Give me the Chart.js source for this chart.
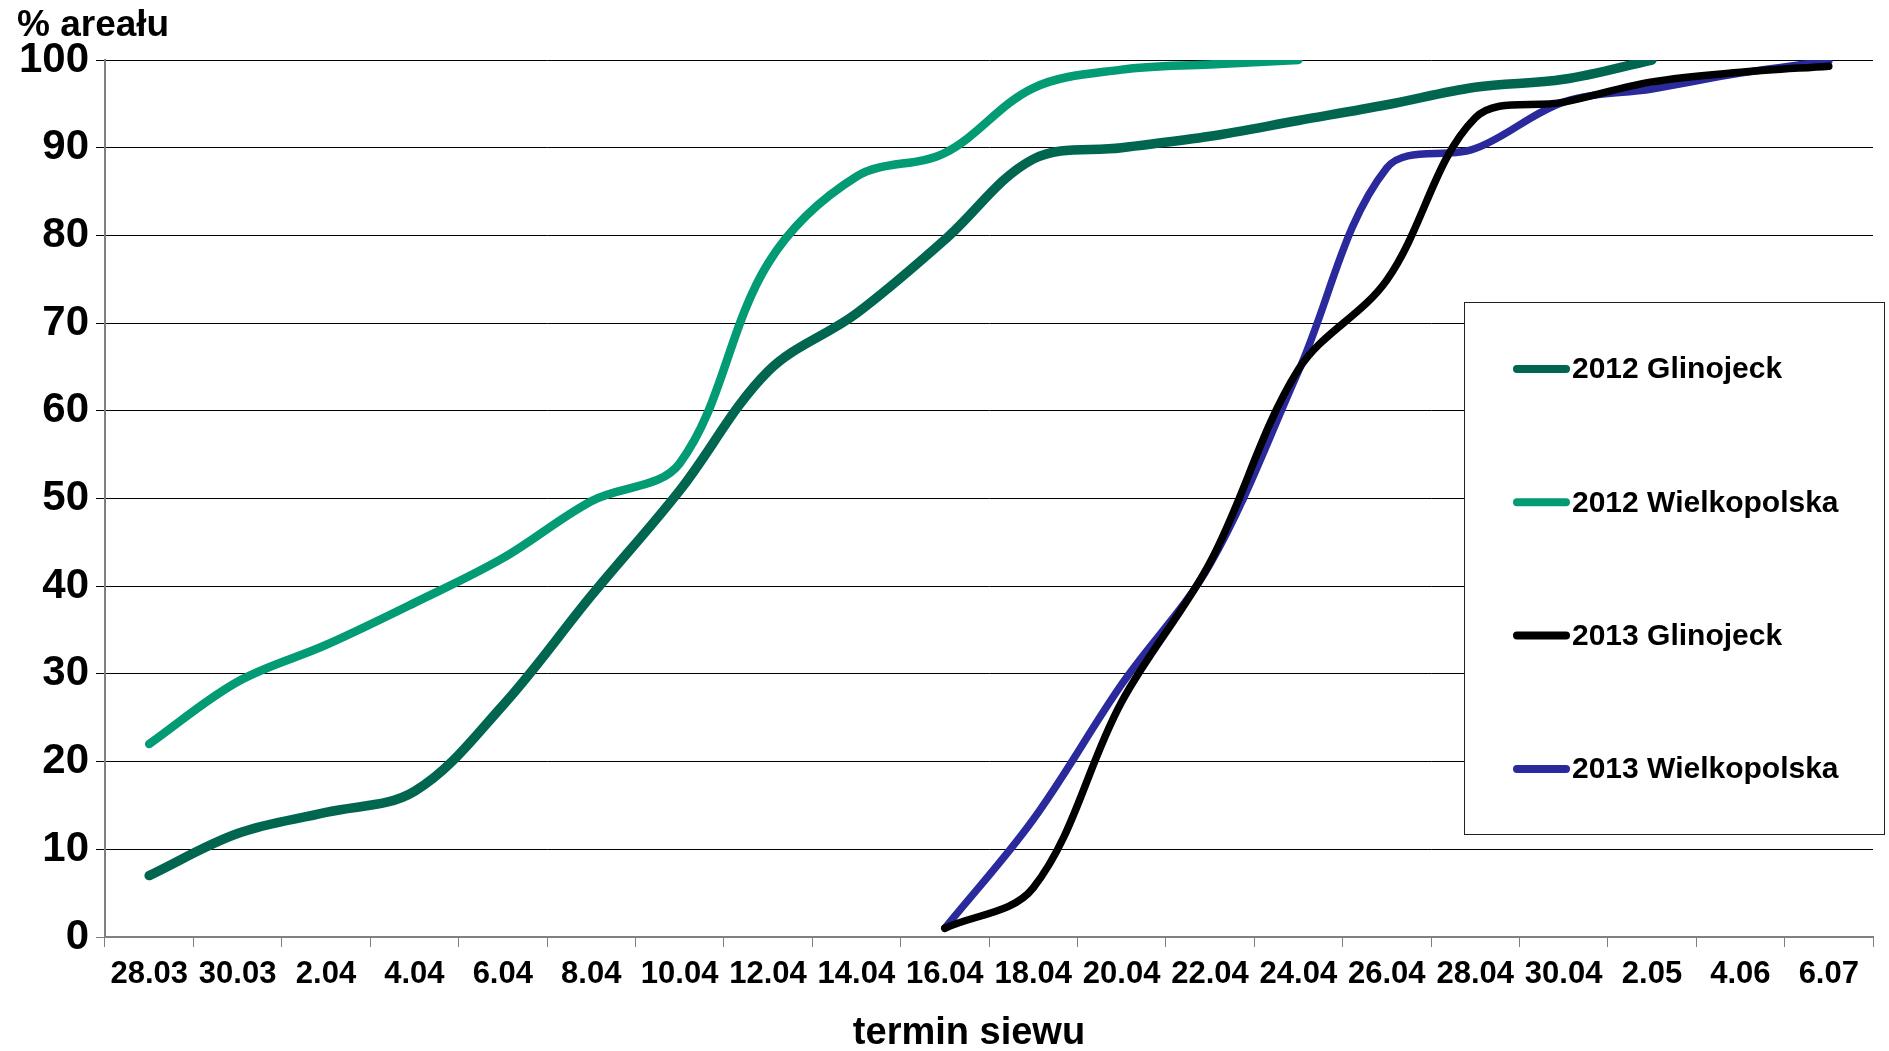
<!DOCTYPE html>
<html>
<head>
<meta charset="utf-8">
<script src="https://cdn.jsdelivr.net/npm/chart.js@4.4.0/dist/chart.umd.min.js"></script>
<style>
  html, body { margin: 0; padding: 0; background: #fff; }
  #wrap { width: 1889px; height: 1051px; }
</style>
</head>
<body>
<div id="wrap"><canvas id="chart" width="1889" height="1051"></canvas></div>
<script>
// sowing dates (x axis)
const labels = ['28.03', '30.03', '2.04', '4.04', '6.04', '8.04', '10.04', '12.04', '14.04', '16.04',
                '18.04', '20.04', '22.04', '24.04', '26.04', '28.04', '30.04', '2.05', '4.06', '6.07'];

// % of area sown
const glinojeck2012   = [7, 11.8, 14.2, 16.6, 26.4, 38.9, 50.9, 64.5, 71.1, 79.5,
                         88.7, 90, 91.3, 93.1, 94.9, 96.9, 97.8, 100, null, null];
const wielkopolska2012 = [22, 29.1, 33.3, 38.1, 43.2, 49.7, 54, 76.8, 86.7, 89.4,
                         96.8, 98.9, 99.5, 100, null, null, null, null, null, null];
const glinojeck2013   = [null, null, null, null, null, null, null, null, null, 1,
                         5.6, 26.8, 42.7, 64.7, 74.9, 93.4, 95.2, 97.5, 98.6, 99.3];
const wielkopolska2013 = [null, null, null, null, null, null, null, null, null, 1,
                         13.4, 28.8, 42.5, 64.5, 87.7, 89.9, 95.2, 96.7, 98.5, 99.9];

const seriesNames  = ['2012 Glinojeck', '2012 Wielkopolska', '2013 Glinojeck', '2013 Wielkopolska'];
const seriesColors = ['#006650', '#029B74', '#000000', '#2A2A9C'];
const seriesWidths = [9.5, 8.5, 7.5, 7.5];

const yTitle = '% areału';
const xTitle = 'termin siewu';

const FONT = '"Liberation Sans", Arial, sans-serif';

// legend drawn as a framed box on top of the plot, like the original
const boxLegend = {
    id: 'boxLegend',
    afterDatasetsDraw(chart) {
        const ctx = chart.ctx;
        ctx.save();
        ctx.fillStyle = '#fff';
        ctx.fillRect(1464, 302, 421, 533);
        ctx.strokeStyle = '#222';
        ctx.lineWidth = 1;
        ctx.strokeRect(1464.5, 302.5, 420, 532);
        ctx.font = 'bold 30px ' + FONT;
        ctx.textBaseline = 'middle';
        chart.data.datasets.forEach((ds, i) => {
            const y = 369 + i * 133.3;
            ctx.strokeStyle = ds.borderColor;
            ctx.lineWidth = 8;
            ctx.lineCap = 'round';
            ctx.beginPath();
            ctx.moveTo(1517, y);
            ctx.lineTo(1566, y);
            ctx.stroke();
            ctx.fillStyle = '#000';
            ctx.fillText(ds.label, 1572, y + 1);
        });
        ctx.restore();
    }
};

// axis captions
const captions = {
    id: 'captions',
    afterDraw(chart) {
        const ctx = chart.ctx;
        ctx.save();
        ctx.fillStyle = '#000';
        ctx.textBaseline = 'middle';
        ctx.font = 'bold 37px ' + FONT;
        ctx.textAlign = 'left';
        ctx.fillText(yTitle, 17, 26);
        ctx.textAlign = 'center';
        ctx.font = 'bold 38px ' + FONT;
        ctx.fillText(xTitle, 969, 1034);
        ctx.restore();
    }
};

const series = [glinojeck2012, wielkopolska2012, glinojeck2013, wielkopolska2013];

new Chart(document.getElementById('chart'), {
    type: 'line',
    data: {
        labels,
        datasets: series.map((data, i) => ({
            label: seriesNames[i],
            data,
            borderColor: seriesColors[i],
            backgroundColor: seriesColors[i],
            borderWidth: seriesWidths[i],
            borderCapStyle: 'round',
            borderJoinStyle: 'round',
            pointRadius: 0,
            tension: 0.35,
            fill: false,
            spanGaps: false,
        }))
    },
    options: {
        responsive: false,
        animation: false,
        devicePixelRatio: 1,
        layout: { padding: { top: 60, right: 16, left: 0, bottom: 0 } },
        plugins: {
            legend: { display: false },
            tooltip: { enabled: false }
        },
        scales: {
            x: {
                offset: true,
                afterFit: s => { s.height = 114; },
                border: { color: '#808080', width: 2 },
                grid: {
                    offset: true,
                    drawOnChartArea: false,
                    tickLength: 10,
                    color: '#808080'
                },
                ticks: {
                    autoSkip: false,
                    maxRotation: 0,
                    padding: 9,
                    color: '#000',
                    font: { family: FONT, size: 31, weight: 'bold' }
                }
            },
            y: {
                min: 0,
                max: 100,
                afterFit: s => { s.width = 105; },
                border: { color: '#808080', width: 2 },
                grid: {
                    tickLength: 9,
                    lineWidth: 1,
                    color: ctx => ctx.tick && ctx.tick.value === 0 ? '#808080' : '#000'
                },
                ticks: {
                    stepSize: 10,
                    padding: 7,
                    color: '#000',
                    font: { family: FONT, size: 42, weight: 'bold' }
                }
            }
        }
    },
    plugins: [boxLegend, captions]
});
</script>
</body>
</html>
